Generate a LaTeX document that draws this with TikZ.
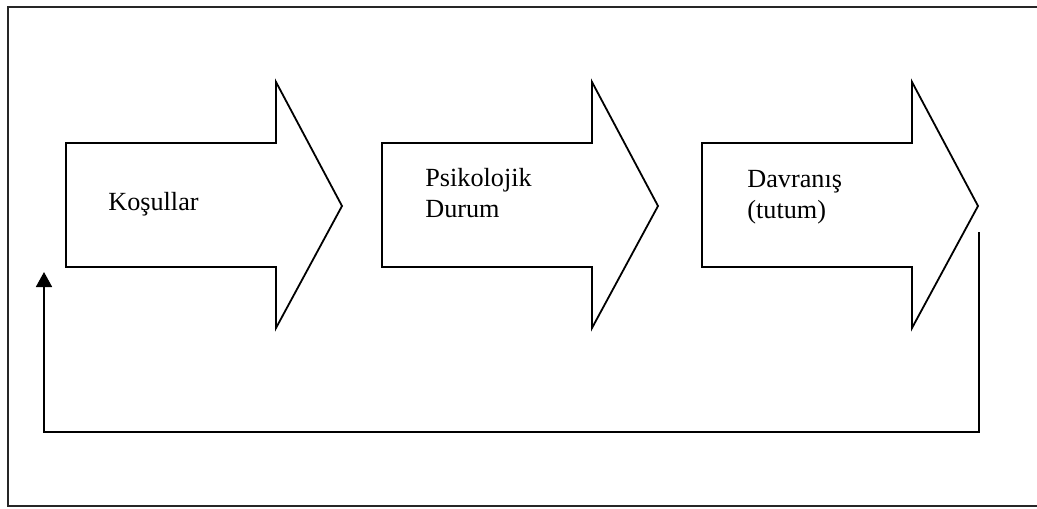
\documentclass[tikz,border=0pt]{standalone}
\usepackage{fontspec}
\setmainfont{Liberation Serif}
\usepackage{tikz}
\usetikzlibrary{arrows.meta,positioning,calc}
% one arrow outline, #1 = left x, #2 = name
\newcommand{\flowarrow}[2]{%
  \draw[outline] (#1,143) -- ++(210,0) -- ++(0,-61) -- ++(66,124) -- ++(-66,122)
    -- ++(0,-61) -- ++(-210,0) -- cycle;
  \coordinate (#2) at (#1,143);}

\begin{document}
\begin{tikzpicture}[
    x=0.5pt,y=-0.5pt,
    outline/.style={draw=black,line width=0.9pt,line join=miter},
    frame/.style={draw=black!85,line width=1pt},
    lbl/.style={anchor=base west,inner sep=0pt,align=left,font=\fontsize{13.1}{15.2}\selectfont},
    back/.style={-{Triangle[length=7.5pt,width=8pt]},line width=0.9pt,black}
  ]
    \useasboundingbox (0,0) rectangle (1037,508);
    \draw[frame] (1037,7) -- (8,7) -- (8,506) -- (1037,506);
    \flowarrow{66}{a1}
    \flowarrow{382}{a2}
    \flowarrow{702}{a3}
    \node[lbl] (kos) at (108,210) {Koşullar};
    \node[lbl] (psi) at (425,217) {Psikolojik\\Durum};
    \node[lbl] (dav) at (747,218) {Davranış\\(tutum)};
    \coordinate (fbout) at (979,232);
    \coordinate (fbcorner) at (44,432);
    \coordinate (fbin) at (44,272);
    \draw[back] (fbout) |- (fbcorner) -- (fbin);
  \end{tikzpicture}
\end{document}
